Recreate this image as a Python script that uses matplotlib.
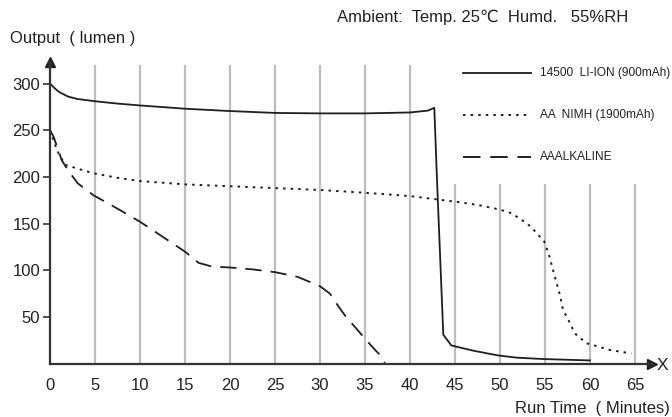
import matplotlib
matplotlib.use("Agg")
import matplotlib.pyplot as plt
from matplotlib.lines import Line2D

plt.rcParams['font.family'] = ['Liberation Sans', 'DejaVu Sans']

# ---- data ----
liion_t = [0, 0.5, 1, 2, 3, 5, 7.5, 10, 15, 20, 25, 30, 35, 40, 42, 42.7, 43.0, 43.7, 44.6, 47, 49.7, 51.8, 54.8, 60]
liion_v = [300, 295, 291, 286, 283.5, 281, 278.5, 276.5, 273, 270.5, 268.5, 268, 268, 269, 271, 274, 197, 31, 19.5, 14, 9, 6.5, 5, 3.5]

nimh_t = [0, 0.5, 1, 1.7, 3, 4.8, 7.5, 10, 15, 20, 25, 30, 35, 40, 45, 47.5, 50, 51.3, 52.4, 53.4, 54.9, 55.4, 55.9, 56.3, 56.7, 57.0, 57.6, 58.3, 59.6, 62.2, 64.6]
nimh_v = [250, 236, 224, 213, 209, 204, 199, 195.5, 192, 190, 188, 186, 183, 179.5, 173.5, 170, 165, 161, 154, 147, 131, 118, 100, 86, 72, 57.5, 47, 32.5, 22, 14.7, 11]

alk_t = [0, 0.4, 1.3, 2, 3.1, 4.8, 7.5, 10, 12.5, 15, 16.5, 18, 20, 22.5, 25, 27.5, 30, 31.1, 32, 32.9, 34, 34.8, 36, 36.7, 37.2]
alk_v = [250, 243, 218, 207, 193, 180.5, 166, 152, 136, 120, 108, 104, 103, 101, 98, 93, 83, 75, 62, 50, 38, 29, 16, 9, 1]

series_labels = ["14500  LI-ION (900mAh)", "AA  NIMH (1900mAh)", "AAALKALINE"]
x_ticks = [0, 5, 10, 15, 20, 25, 30, 35, 40, 45, 50, 55, 60, 65]
y_ticks = [50, 100, 150, 200, 250, 300]

W, H = 672, 417
fig = plt.figure(figsize=(W / 100, H / 100), dpi=100)

def fx(px):
    return px / W

def fy(py):
    return 1 - py / H

x0, y0 = 50, 363.7
x1, y1 = 652, 62
ax = fig.add_axes([fx(x0), fy(y0), fx(x1) - fx(x0), fy(y1) - fy(y0)])
ax.set_xlim(0, (x1 - x0) / 9.0)
ax.set_ylim(0, (y0 - y1) / 0.934)

grid_c = '#bdbdbd'
for t in x_ticks[1:]:
    top = 318.5 if t <= 40 else 191.5
    ax.plot([t, t], [0, top], color=grid_c, lw=1.6, zorder=1)

lc = '#1e1e1e'
ax.plot(liion_t, liion_v, color=lc, lw=1.3, zorder=3, solid_joinstyle='round')
ax.plot(nimh_t, nimh_v, color=lc, lw=1.4, linestyle=(0, (1.3, 2.6)), zorder=3)
ax.plot(alk_t, alk_v, color=lc, lw=1.3, linestyle=(0, (9, 5)), zorder=3)

for s in ['top', 'right']:
    ax.spines[s].set_visible(False)
for s in ['left', 'bottom']:
    ax.spines[s].set_color('#333333')
    ax.spines[s].set_linewidth(1.6)
    ax.spines[s].set_zorder(4)

ax.plot([0], [1], marker='^', color='#222222', markersize=6.5, transform=ax.transAxes, clip_on=False)
ax.plot([1], [0], marker='>', color='#222222', markersize=6.5, transform=ax.transAxes, clip_on=False)

ax.set_yticks(y_ticks)
ax.set_yticklabels([str(v) for v in y_ticks], fontsize=12, color='#222222')
ax.tick_params(axis='y', length=5, width=1.2, color='#333333', pad=2)
ax.set_xticks(x_ticks)
ax.set_xticklabels([str(v) for v in x_ticks], fontsize=12, color='#222222')
ax.tick_params(axis='x', length=0, pad=10)

# texts
fig.text(fx(337), fy(17), "Ambient:  Temp. 25\u2103  Humd.   55%RH", fontsize=12,
         ha='left', va='center', color='#222222')
fig.text(fx(10), fy(39), "Output  ( lumen )", fontsize=12, ha='left', va='center', color='#222222')
fig.text(fx(670), fy(408), "Run Time  ( Minutes)", fontsize=12, ha='right', va='center', color='#222222')
fig.text(fx(657), fy(366), "X", fontsize=12.5, ha='left', va='center', color='#222222')

# legend
styles = [dict(linestyle='-', lw=1.3), dict(linestyle=(0, (1.3, 2.6)), lw=1.4), dict(linestyle=(0, (9, 5)), lw=1.4)]
ys = [73, 115, 157]
for lab, st, yy in zip(series_labels, styles, ys):
    fig.add_artist(Line2D([fx(463), fx(531)], [fy(yy), fy(yy)], color=lc, transform=fig.transFigure, **st))
    fig.text(fx(540), fy(yy), lab, fontsize=8.6, ha='left', va='center', color='#222222')

fig.savefig('out.png', dpi=100)
